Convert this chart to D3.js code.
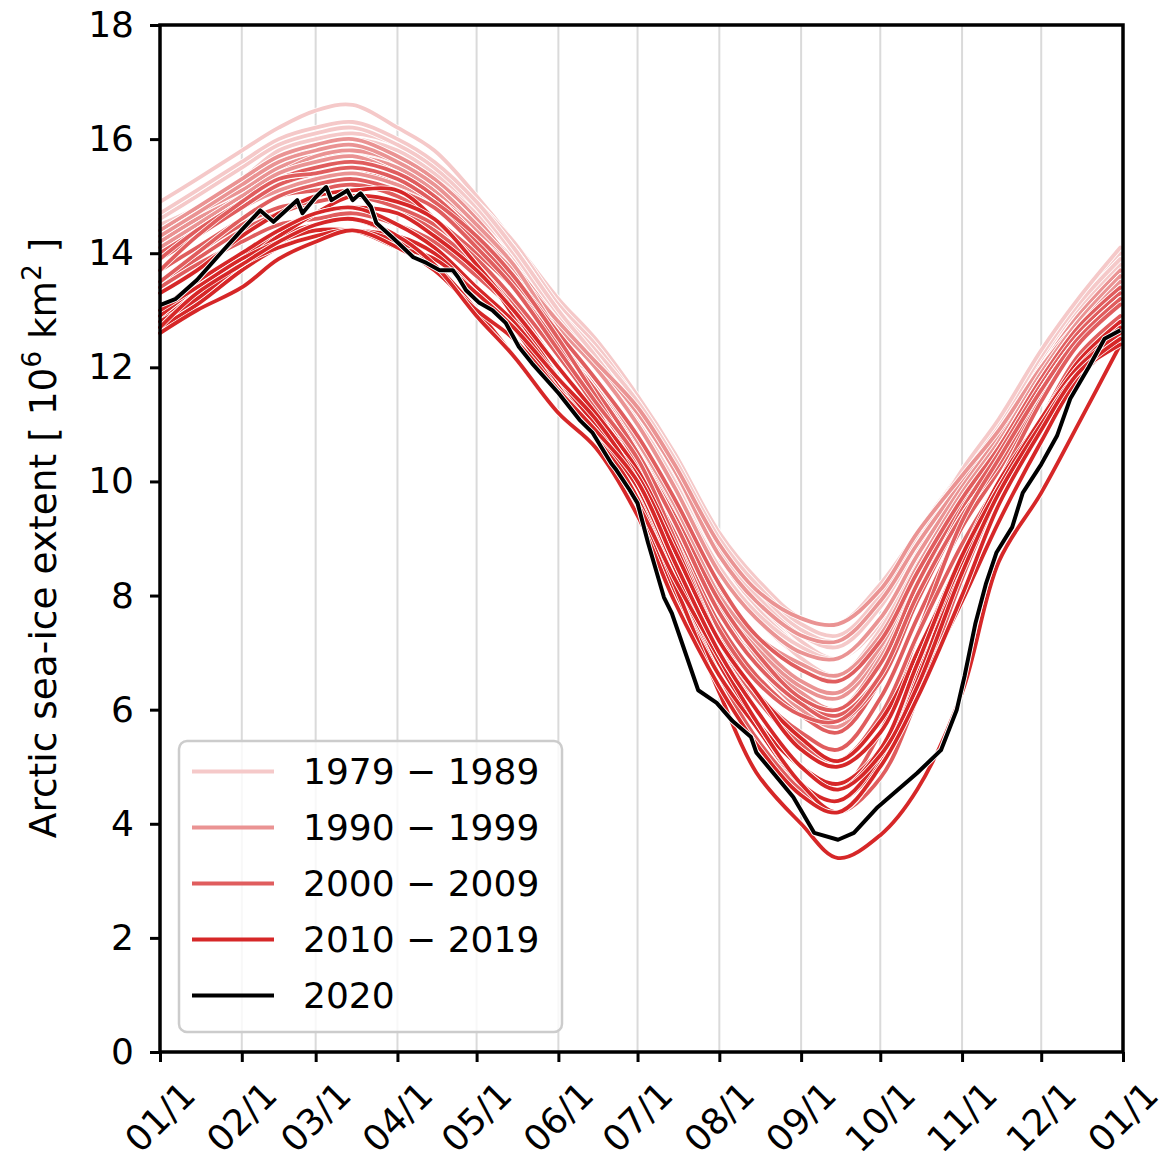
<!DOCTYPE html>
<html>
<head>
<meta charset="utf-8">
<script src="https://cdn.jsdelivr.net/npm/d3@7"></script>
<style>
  html, body { margin: 0; padding: 0; background: #fff; }
  svg { display: block; font-family: "DejaVu Sans", sans-serif; }
</style>
</head>
<body>
<svg id="chart" width="1165" height="1165"></svg>
<script>
// ---------------- DATA ----------------
// day-of-year sample points (1st and ~15th of each month, plus Dec 31)
const sampleDays = [0,14,31,45,59,73,90,104,120,134,151,165,181,195,212,226,243,257,273,287,304,318,334,348,364];
const monthTicks = [0,31,59,90,120,151,181,212,243,273,304,334,365];
const monthLabels = ["01/1","02/1","03/1","04/1","05/1","06/1","07/1","08/1","09/1","10/1","11/1","12/1","01/1"];
const yTicks = [0,2,4,6,8,10,12,14,16,18];

// extent, 10^6 km^2
const y1979 = [14.9,15.3,15.8,16.2,16.5,16.6,16.2,15.8,15.0,14.2,13.1,12.3,11.3,10.2,8.7,7.8,7.1,6.9,7.6,8.7,10.0,11.0,12.2,13.2,14.0];
const y1980 = [14.6,15.0,15.5,15.9,16.1,16.2,15.9,15.5,14.9,14.2,13.2,12.5,11.5,10.5,9.1,8.3,7.6,7.5,8.2,9.1,10.2,11.1,12.3,13.2,14.0];
const y1981 = [14.3,14.7,15.2,15.5,15.7,15.8,15.5,15.2,14.5,13.9,12.8,12.1,11.1,10.1,8.7,7.9,7.2,6.9,7.5,8.6,9.8,10.8,12.0,12.9,13.7];
const y1982 = [14.6,15.0,15.5,15.9,16.1,16.2,15.9,15.6,14.9,14.2,13.1,12.4,11.4,10.4,8.9,8.1,7.4,7.1,7.9,8.9,10.1,11.0,12.2,13.1,13.9];
const y1983 = [14.5,14.8,15.3,15.8,16.0,16.1,15.9,15.5,14.8,14.1,13.0,12.3,11.3,10.3,8.9,8.1,7.4,7.2,7.9,9.0,10.2,11.0,12.1,13.0,13.8];
const y1984 = [14.2,14.6,15.1,15.5,15.7,15.8,15.5,15.1,14.5,13.8,12.7,12.0,11.0,9.9,8.4,7.6,6.9,6.5,7.3,8.5,9.8,10.8,12.0,12.9,13.6];
const y1985 = [14.3,14.7,15.2,15.6,15.9,16.0,15.8,15.4,14.7,14.0,12.9,12.1,11.1,10.0,8.5,7.7,6.9,6.6,7.4,8.6,9.9,10.8,12.0,12.9,13.7];
const y1986 = [14.4,14.8,15.3,15.7,15.9,16.0,15.8,15.4,14.8,14.1,13.0,12.3,11.4,10.4,9.0,8.2,7.5,7.3,8.0,9.0,10.1,10.9,12.1,13.0,13.8];
const y1987 = [14.6,15.0,15.5,15.9,16.1,16.2,15.9,15.5,14.8,14.0,12.9,12.2,11.2,10.2,8.8,8.0,7.2,6.9,7.6,8.8,10.1,11.0,12.2,13.1,13.9];
const y1988 = [14.7,15.1,15.6,16.0,16.2,16.3,16.0,15.6,14.9,14.1,13.0,12.2,11.2,10.2,8.8,8.0,7.3,7.1,7.8,8.9,10.2,11.1,12.3,13.2,14.1];
const y1989 = [14.2,14.6,15.0,15.4,15.6,15.7,15.5,15.1,14.5,13.8,12.8,12.0,11.0,9.9,8.5,7.7,7.1,6.9,7.6,8.7,9.9,10.8,12.0,12.9,13.6];

const y1990 = [14.4,14.8,15.3,15.7,15.9,16.0,15.7,15.3,14.6,13.8,12.6,11.7,10.6,9.4,7.9,7.0,6.3,6.0,6.9,8.3,9.8,10.8,12.0,12.9,13.7];
const y1991 = [14.2,14.6,15.0,15.4,15.6,15.7,15.4,15.1,14.4,13.7,12.6,11.8,10.8,9.6,8.1,7.2,6.5,6.3,7.1,8.4,9.8,10.7,11.9,12.8,13.6];
const y1992 = [14.3,14.7,15.1,15.5,15.7,15.7,15.5,15.1,14.5,13.8,12.8,12.1,11.2,10.2,8.7,7.9,7.3,7.2,7.9,8.9,10.0,10.9,12.0,12.9,13.7];
const y1993 = [14.1,14.5,15.0,15.4,15.7,15.8,15.6,15.2,14.5,13.7,12.6,11.8,10.7,9.5,8.0,7.1,6.4,6.2,7.0,8.4,9.8,10.7,11.9,12.8,13.6];
const y1994 = [14.1,14.5,15.0,15.4,15.6,15.7,15.4,15.0,14.4,13.7,12.7,12.0,11.0,9.9,8.4,7.6,7.0,6.9,7.6,8.7,9.9,10.8,12.0,12.8,13.6];
const y1995 = [14.0,14.4,14.9,15.2,15.4,15.5,15.2,14.8,14.1,13.4,12.3,11.5,10.4,9.2,7.7,6.9,6.2,6.0,6.9,8.2,9.6,10.5,11.8,12.7,13.5];
const y1996 = [13.9,14.3,14.8,15.1,15.3,15.4,15.2,14.9,14.3,13.7,12.8,12.1,11.3,10.3,8.9,8.1,7.6,7.5,8.1,9.1,10.1,10.9,12.0,12.8,13.6];
const y1997 = [14.1,14.5,15.0,15.4,15.6,15.7,15.4,15.0,14.3,13.6,12.6,11.8,10.8,9.7,8.2,7.3,6.8,6.6,7.3,8.5,9.8,10.7,11.9,12.8,13.6];
const y1998 = [14.3,14.7,15.2,15.6,15.8,15.9,15.6,15.2,14.5,13.8,12.6,11.8,10.7,9.6,8.0,7.2,6.5,6.3,7.1,8.4,9.7,10.6,11.8,12.7,13.5];
const y1999 = [14.0,14.4,14.9,15.3,15.5,15.6,15.4,15.0,14.3,13.6,12.5,11.6,10.5,9.3,7.8,6.8,6.0,5.7,6.6,8.0,9.6,10.6,11.8,12.7,13.4];

const y2000 = [14.0,14.4,14.9,15.2,15.4,15.5,15.3,14.9,14.2,13.5,12.4,11.6,10.5,9.4,7.9,7.0,6.2,6.0,6.8,8.2,9.6,10.5,11.8,12.6,13.4];
const y2001 = [13.9,14.4,14.9,15.3,15.5,15.6,15.4,15.0,14.3,13.6,12.6,11.8,10.8,9.7,8.2,7.3,6.7,6.5,7.2,8.4,9.7,10.6,11.8,12.7,13.4];
const y2002 = [13.9,14.3,14.8,15.2,15.4,15.5,15.3,14.9,14.2,13.4,12.3,11.4,10.3,9.1,7.5,6.6,5.9,5.6,6.5,7.9,9.5,10.5,11.7,12.6,13.3];
const y2003 = [13.9,14.4,14.9,15.3,15.4,15.5,15.3,14.9,14.2,13.5,12.4,11.6,10.5,9.3,7.7,6.8,6.1,5.9,6.6,8.0,9.4,10.3,11.6,12.5,13.2];
const y2004 = [13.7,14.1,14.6,15.0,15.1,15.2,15.0,14.6,14.0,13.4,12.4,11.6,10.5,9.3,7.7,6.8,6.1,5.8,6.5,7.9,9.4,10.3,11.6,12.5,13.2];
const y2005 = [13.5,13.9,14.4,14.7,14.9,15.0,14.8,14.4,13.8,13.1,12.0,11.2,10.1,8.9,7.3,6.3,5.6,5.3,6.2,7.6,9.2,10.2,11.5,12.4,13.1];
const y2006 = [13.4,13.8,14.2,14.5,14.6,14.7,14.5,14.2,13.6,13.0,12.0,11.2,10.2,9.0,7.4,6.5,5.9,5.8,6.6,8.0,9.4,10.3,11.6,12.5,13.2];
const y2007 = [13.5,14.0,14.5,14.8,14.9,15.0,14.8,14.5,13.9,13.2,12.2,11.3,9.9,8.3,6.6,5.5,4.6,4.2,4.8,6.2,8.3,9.8,11.1,12.2,12.9];
const y2008 = [13.7,14.3,14.9,15.3,15.4,15.5,15.3,14.9,14.3,13.6,12.5,11.5,10.3,8.9,7.2,6.0,5.0,4.6,5.6,7.3,9.3,10.4,11.6,12.5,13.2];
const y2009 = [13.5,14.0,14.6,15.0,15.2,15.3,15.1,14.8,14.1,13.4,12.3,11.4,10.4,9.0,7.2,6.2,5.4,5.1,5.9,7.3,8.9,10.0,11.4,12.4,13.1];

const y2010 = [13.3,13.7,14.3,14.7,15.0,15.1,15.1,14.6,13.8,12.9,11.6,10.8,9.6,8.3,6.8,5.8,5.0,4.7,5.3,6.6,8.5,9.8,11.1,12.0,12.5];
const y2011 = [12.8,13.3,13.9,14.3,14.5,14.6,14.3,14.0,13.4,12.7,11.7,10.9,9.6,8.1,6.6,5.7,4.7,4.4,5.1,6.5,8.6,9.9,11.0,12.0,12.7];
const y2012 = [12.9,13.4,13.9,14.3,14.7,15.0,14.9,14.6,13.8,13.0,11.8,10.9,9.7,8.2,6.3,4.9,4.0,3.4,3.8,4.6,6.3,8.6,9.8,11.0,12.4];
const y2013 = [12.8,13.3,13.9,14.4,14.7,14.8,14.7,14.3,13.7,13.0,12.0,11.2,10.2,8.9,7.2,6.3,5.5,5.1,5.8,7.0,8.7,10.0,11.1,12.1,12.8];
const y2014 = [13.0,13.5,14.0,14.4,14.7,14.8,14.5,14.1,13.4,12.8,11.8,11.0,10.1,8.8,7.2,6.3,5.3,5.0,5.6,7.0,8.6,9.9,11.0,12.0,12.6];
const y2015 = [13.0,13.4,13.9,14.2,14.4,14.4,14.3,14.0,13.3,12.7,11.6,10.9,9.9,8.5,6.8,5.8,4.7,4.4,5.2,6.8,8.6,9.8,11.0,12.0,12.7];
const y2016 = [12.7,13.1,13.7,14.1,14.3,14.4,14.2,13.8,13.0,12.2,11.2,10.6,9.6,8.3,6.9,5.8,4.7,4.2,5.0,6.3,7.9,9.3,10.7,11.8,12.5];
const y2017 = [12.8,13.2,13.8,14.1,14.3,14.4,14.1,13.9,13.3,12.7,11.8,11.1,10.0,8.6,7.0,6.0,5.0,4.6,5.3,6.8,8.7,9.9,11.1,12.0,12.6];
const y2018 = [12.6,13.0,13.4,13.9,14.2,14.4,14.1,13.7,13.0,12.5,11.6,10.9,10.0,8.6,7.0,6.0,5.0,4.6,5.2,6.4,8.4,9.8,11.0,11.9,12.4];
const y2019 = [12.7,13.3,13.8,14.2,14.5,14.6,14.3,13.8,12.9,12.2,11.2,10.6,9.4,7.9,6.4,5.4,4.5,4.2,5.0,6.2,8.0,9.6,10.9,11.9,12.5];

// 2020 (read more densely)
const days2020 = [0,6,14,23,31,38,43,52,54,59,63,65,71,73,76,80,82,88,96,101,106,111,113,116,121,126,131,136,141,151,159,164,171,173,178,181,185,191,194,204,211,217,224,226,240,248,257,263,272,287,296,302,305,309,313,317,323,327,334,340,345,352,358,364];
const ext2020 = [13.09,13.2,13.53,14.0,14.41,14.75,14.55,14.93,14.7,14.98,15.16,14.93,15.1,14.93,15.05,14.81,14.53,14.28,13.93,13.83,13.7,13.7,13.58,13.35,13.13,13.0,12.78,12.36,12.07,11.55,11.08,10.85,10.32,10.2,9.85,9.62,8.92,7.97,7.69,6.34,6.12,5.8,5.52,5.25,4.47,3.84,3.72,3.84,4.29,4.89,5.29,6.0,6.6,7.5,8.2,8.75,9.2,9.8,10.3,10.8,11.45,12.0,12.5,12.65];

const decadeLabels = ["1979 \u2212 1989","1990 \u2212 1999","2000 \u2212 2009","2010 \u2212 2019","2020"];
const decadeColors = ["#f5c9c9","#ea9393","#e05d5e","#d62728","#000000"];

const yearSeries = [
  [1979,y1979],[1980,y1980],[1981,y1981],[1982,y1982],[1983,y1983],[1984,y1984],[1985,y1985],[1986,y1986],[1987,y1987],[1988,y1988],[1989,y1989],
  [1990,y1990],[1991,y1991],[1992,y1992],[1993,y1993],[1994,y1994],[1995,y1995],[1996,y1996],[1997,y1997],[1998,y1998],[1999,y1999],
  [2000,y2000],[2001,y2001],[2002,y2002],[2003,y2003],[2004,y2004],[2005,y2005],[2006,y2006],[2007,y2007],[2008,y2008],[2009,y2009],
  [2010,y2010],[2011,y2011],[2012,y2012],[2013,y2013],[2014,y2014],[2015,y2015],[2016,y2016],[2017,y2017],[2018,y2018],[2019,y2019]
];

// ---------------- CHART ----------------
const svg = d3.select("#chart");
const L = 160, R = 1123, T = 25, B = 1052;
const x = d3.scaleLinear().domain([0, 365]).range([L, R]);
const y = d3.scaleLinear().domain([0, 18]).range([B, T]);

function colorFor(yr) {
  if (yr <= 1989) return decadeColors[0];
  if (yr <= 1999) return decadeColors[1];
  if (yr <= 2009) return decadeColors[2];
  if (yr <= 2019) return decadeColors[3];
  return decadeColors[4];
}

// grid lines
svg.append("g").selectAll("line").data(monthTicks).join("line")
  .attr("x1", d => x(d)).attr("x2", d => x(d))
  .attr("y1", T).attr("y2", B)
  .attr("stroke", "#dadada").attr("stroke-width", 2);

const curveLine = d3.line()
  .x(d => x(d[0])).y(d => y(d[1]))
  .curve(d3.curveCatmullRom.alpha(0.5));

const linesG = svg.append("g");
yearSeries.forEach(([yr, vals]) => {
  const pts = sampleDays.map((d, i) => [d, vals[i]]);
  linesG.append("path").attr("d", curveLine(pts))
    .attr("fill", "none").attr("stroke", "#fff").attr("stroke-width", 5.4)
    .attr("stroke-linejoin", "round").attr("stroke-linecap", "round");
  linesG.append("path").attr("d", curveLine(pts))
    .attr("fill", "none").attr("stroke", colorFor(yr)).attr("stroke-width", 3.8)
    .attr("stroke-linejoin", "round").attr("stroke-linecap", "round");
});

const line2020 = d3.line().x(d => x(d[0])).y(d => y(d[1])).curve(d3.curveLinear);
const pts2020 = days2020.map((d, i) => [d, ext2020[i]]);
linesG.append("path").attr("d", line2020(pts2020))
  .attr("fill", "none").attr("stroke", "#fff").attr("stroke-width", 5.8)
  .attr("stroke-linejoin", "round");
linesG.append("path").attr("d", line2020(pts2020))
  .attr("fill", "none").attr("stroke", "#000").attr("stroke-width", 4)
  .attr("stroke-linejoin", "round");

// axes
const yAxis = d3.axisLeft(y).tickValues(yTicks).tickSize(10).tickPadding(16).tickFormat(d3.format("d"));
const yG = svg.append("g").attr("transform", `translate(${L},0)`).call(yAxis);
yG.select(".domain").remove();
yG.selectAll(".tick line").attr("stroke", "#000").attr("stroke-width", 3);
yG.selectAll(".tick text").attr("font-size", 36).attr("fill", "#000")
  .attr("font-family", "DejaVu Sans, sans-serif");

const xAxis = d3.axisBottom(x).tickValues(monthTicks).tickSize(10).tickFormat("");
const xG = svg.append("g").attr("transform", `translate(0,${B})`).call(xAxis);
xG.select(".domain").remove();
xG.selectAll(".tick line").attr("stroke", "#000").attr("stroke-width", 3);

svg.append("g").selectAll("text").data(monthTicks).join("text")
  .attr("x", d => x(d)).attr("y", 1117)
  .attr("text-anchor", "middle").attr("dominant-baseline", "central")
  .attr("transform", d => `rotate(-45,${x(d)},1117)`)
  .attr("font-size", 36).attr("fill", "#000")
  .text((d, i) => monthLabels[i]);

// spines
svg.append("rect").attr("x", L).attr("y", T).attr("width", R - L).attr("height", B - T)
  .attr("fill", "none").attr("stroke", "#000").attr("stroke-width", 3.5);

// y label
const yl = svg.append("text").attr("transform", "translate(56,538) rotate(-90)")
  .attr("text-anchor", "middle").attr("font-size", 37.5).attr("fill", "#000");
yl.append("tspan").text("Arctic sea-ice extent [ 10");
yl.append("tspan").attr("dy", -15).attr("font-size", 26).text("6");
yl.append("tspan").attr("dy", 15).text(" km");
yl.append("tspan").attr("dy", -15).attr("font-size", 26).text("2");
yl.append("tspan").attr("dy", 15).text(" ]");

// legend
const lg = svg.append("g");
lg.append("rect").attr("x", 179).attr("y", 741).attr("width", 383).attr("height", 291)
  .attr("rx", 8).attr("ry", 8)
  .attr("fill", "#fff").attr("fill-opacity", 0.8)
  .attr("stroke", "#cccccc").attr("stroke-width", 2.5);
const rowY = [771.5, 827.5, 883.5, 939.5, 995.5];
decadeLabels.forEach((lab, i) => {
  lg.append("line").attr("x1", 192).attr("x2", 274).attr("y1", rowY[i]).attr("y2", rowY[i])
    .attr("stroke", decadeColors[i]).attr("stroke-width", 4);
  lg.append("text").attr("x", 303).attr("y", rowY[i]).attr("dy", "0.36em")
    .attr("font-size", 36).attr("fill", "#000").text(lab);
});
</script>
</body>
</html>
